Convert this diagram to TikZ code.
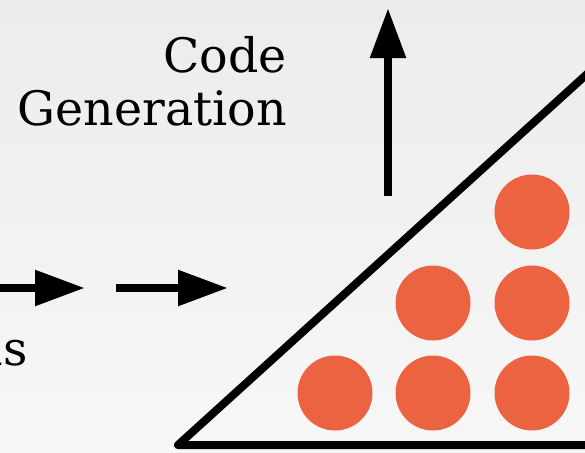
\documentclass[tikz,border=0pt]{standalone}
\usepackage{fontspec}
\setmainfont{DejaVu Serif}
\usetikzlibrary{arrows.meta,positioning}
\usepackage{xcolor}

\definecolor{dotorange}{RGB}{235,99,64}
\definecolor{bgtop}{RGB}{236,236,236}
\definecolor{bgbottom}{RGB}{247,247,247}

\begin{document}
\begin{tikzpicture}[
    x=1pt, y=-1pt,
    every node/.style={font=\fontsize{47.5}{53}\selectfont},
    label/.style={inner sep=0pt, align=right},
    dot/.style={circle, fill=dotorange, minimum size=75pt, inner sep=0pt},
    flow/.style={line width=8.5pt, -{Triangle[length=50pt, width=34pt]}},
    wedge/.style={line width=8pt, line join=round}
]

% Frame and background
\useasboundingbox (0,0) rectangle (585,452);
\clip (0,0) rectangle (585,452);
\shade[top color=bgtop, bottom color=bgbottom] (0,0) rectangle (585,452);

% Labels (base anchor sits on the last line)
\node[label, anchor=base east] (codegen) at (287,125) {Code\\Generation};
\node[label, anchor=base east] (ops) at (28,365) {ns};

% Arrow end points
\coordinate (upstart) at (388,196);
\coordinate (upend) at (388,8);
\coordinate (instart) at (-10,288);
\coordinate (inend) at (85,288);
\coordinate (midstart) at (116,288);
\coordinate (midend) at (228,288);

% Triangle corners
\coordinate (tl) at (178,445);
\coordinate (tt) at (640,26);
\coordinate (tr) at (640,445);

% Dots inside the triangle
\node[dot] (d1) at (335,393) {};
\node[dot] (d2) at (433,393) {};
\node[dot] (d3) at (532,393) {};
\node[dot] (d4) at (433,303) {};
\node[dot] (d5) at (532,303) {};
\node[dot] (d6) at (532,212) {};

% Triangle outline
\draw[wedge] (tl) -- (tt) -- (tr) -- cycle;

% Arrows
\draw[flow] (upstart) -- (upend);
\draw[flow] (instart) -- (inend);
\draw[flow] (midstart) -- (midend);

\end{tikzpicture}
\end{document}
